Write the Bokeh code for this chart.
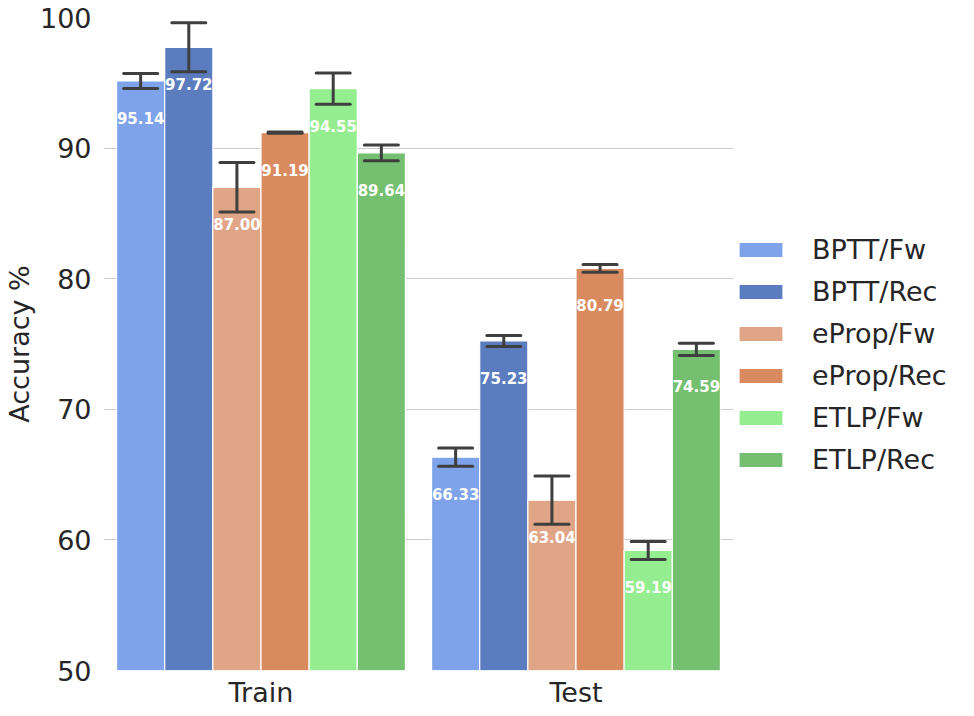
from bokeh.plotting import figure
from bokeh.models import ColumnDataSource, Legend, LegendItem, FixedTicker, Range1d, Whisker
from bokeh.embed import file_html
from bokeh.resources import INLINE
from bokeh.core.properties import value

splits = ["Train", "Test"]
methods = ["BPTT/Fw", "BPTT/Rec", "eProp/Fw", "eProp/Rec", "ETLP/Fw", "ETLP/Rec"]
colors = ["#7ea3ea", "#5b7dbf", "#e0a587", "#d98b5f", "#94ed8e", "#74bf70"]
train_vals = [95.14, 97.72, 87.00, 91.19, 94.55, 89.64]
test_vals = [66.33, 75.23, 63.04, 80.79, 59.19, 74.59]
train_err = [0.57, 1.88, 1.90, 0.05, 1.20, 0.60]
test_err = [0.70, 0.42, 1.85, 0.30, 0.69, 0.47]
y_ticks = [50, 60, 70, 80, 90, 100]

FONT = "DejaVu Sans"
group_w = 0.917
bar_w = group_w / len(methods)

p = figure(frame_width=630, frame_height=653, output_backend="svg", toolbar_location=None,
           x_range=Range1d(-0.5, 1.5), y_range=Range1d(50, 100),
           min_border_left=95, min_border_top=17, min_border_bottom=38, min_border_right=0)
p.outline_line_color = None
p.background_fill_color = "white"
p.border_fill_color = "white"

p.xgrid.grid_line_color = None
p.ygrid.grid_line_color = "#cccccc"
p.ygrid.grid_line_width = 1.2
p.ygrid.ticker = FixedTicker(ticks=y_ticks)
p.yaxis.ticker = FixedTicker(ticks=y_ticks)
p.xaxis.ticker = FixedTicker(ticks=[0, 1])
p.xaxis.major_label_overrides = {0: splits[0], 1: splits[1]}

for ax in (p.xaxis[0], p.yaxis[0]):
    ax.axis_line_color = None
    ax.major_tick_line_color = None
    ax.minor_tick_line_color = None
    ax.major_tick_out = 0
    ax.major_tick_in = 0
    ax.major_label_text_font = FONT
    ax.major_label_text_font_size = "27px"
    ax.major_label_text_color = "#262626"
p.yaxis.major_label_standoff = 12
p.xaxis.major_label_standoff = 6
p.yaxis.axis_label = "Accuracy %"
p.yaxis.axis_label_text_font = FONT
p.yaxis.axis_label_text_font_size = "27px"
p.yaxis.axis_label_text_font_style = "normal"
p.yaxis.axis_label_text_color = "#262626"
p.yaxis.axis_label_standoff = 2

items = []
for i, m in enumerate(methods):
    offset = -group_w / 2 + bar_w * (i + 0.5)
    xs = [0 + offset, 1 + offset]
    vals = [train_vals[i], test_vals[i]]
    errs = [train_err[i], test_err[i]]
    src = ColumnDataSource(dict(
        x=xs, top=vals,
        upper=[v + e for v, e in zip(vals, errs)],
        lower=[v - e for v, e in zip(vals, errs)],
        label=["%.2f" % v for v in vals],
    ))
    r = p.vbar(x="x", top="top", bottom=50, width=bar_w, source=src,
               fill_color=colors[i], line_color="white", line_width=1.2)
    items.append(LegendItem(label=m, renderers=[r]))
    w = Whisker(base="x", upper="upper", lower="lower", source=src, dimension="height",
                line_color="#3f3f3f", line_width=3, level="overlay")
    for h in (w.upper_head, w.lower_head):
        h.size = 34
        h.line_color = "#3f3f3f"
        h.line_width = 3
        h.line_cap = "round"
    p.add_layout(w)
    p.text(x="x", y="top", text="label", source=src, y_offset=37,
           text_align="center", text_baseline="middle",
           text_font=value(FONT), text_font_size="15px", text_font_style="bold",
           text_color="white")

legend = Legend(items=items, location=(0, 195), orientation="vertical",
                label_text_font=FONT, label_text_font_size="27px", label_text_color="#262626",
                glyph_width=55, glyph_height=19, label_standoff=24, label_width=154,
                spacing=11, padding=0, margin=0,
                border_line_color=None, background_fill_alpha=0)
p.add_layout(legend, "right")

open("out.html", "w").write(file_html(p, INLINE))
